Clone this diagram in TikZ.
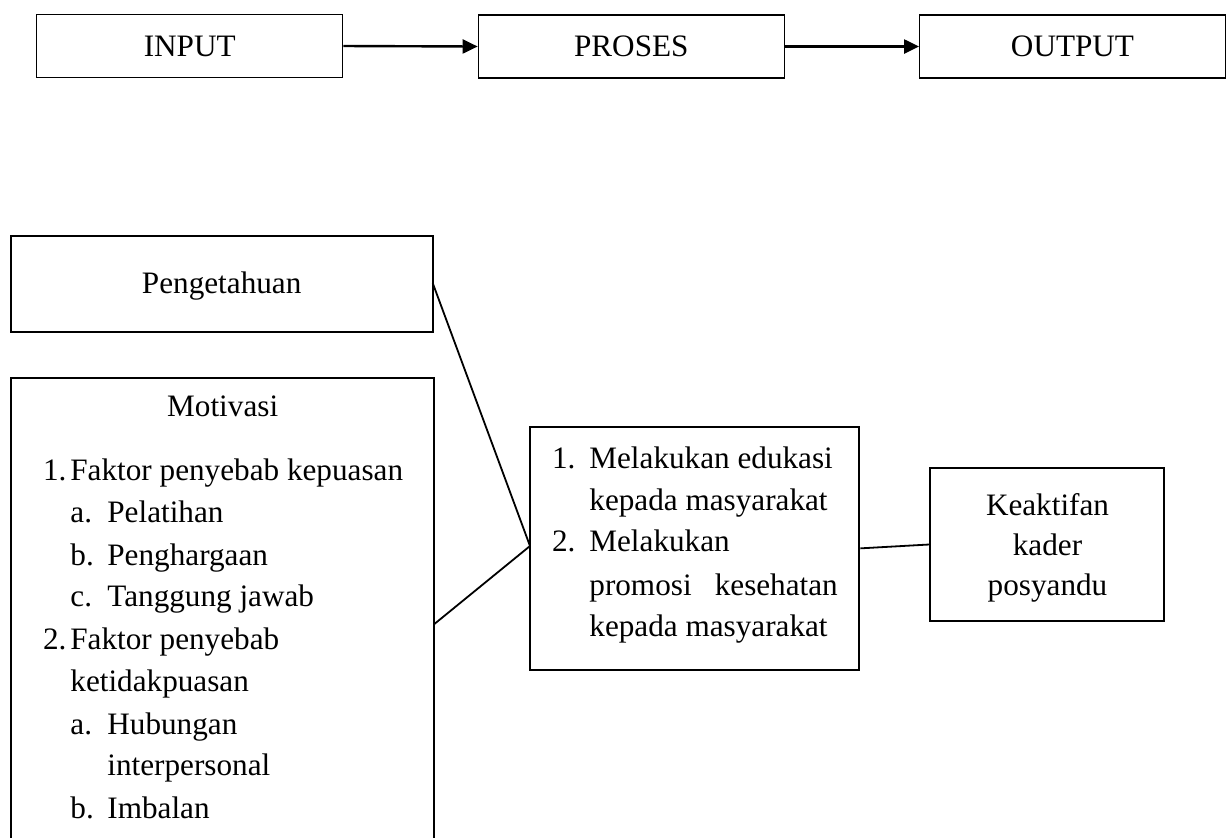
\documentclass[tikz,border=0pt]{standalone}
\usepackage{fontspec}
\setmainfont{Liberation Serif}
\usetikzlibrary{arrows.meta}
\begin{document}
\begin{tikzpicture}[x=0.5pt,y=-0.5pt,
  topbox/.style={draw, line width=0.65pt, inner sep=0pt, font=\fontsize{15.6}{21}\selectfont},
  lowbox/.style={draw, line width=1pt, inner sep=0pt, font=\fontsize{15.6}{20}\selectfont, align=center},
  txt/.style={anchor=base west, inner sep=0pt, font=\fontsize{15.6}{21}\selectfont},
  ctxt/.style={anchor=base, inner sep=0pt, font=\fontsize{15.6}{21}\selectfont},
  flow/.style={line width=1.2pt, -{Triangle[length=7.5pt,width=7pt]}},
  link/.style={line width=0.9pt}]
\useasboundingbox (0,0) rectangle (1232,837);
\clip (0,0) rectangle (1232,837);
% top row
\node[topbox, minimum width=153pt, minimum height=31.8pt] (input) at (189.7,46) {INPUT};
\node[topbox, minimum width=153pt, minimum height=31.5pt] (proses) at (631.3,46.5) {PROSES};
\node[topbox, minimum width=152.8pt, minimum height=31.5pt] (output) at (1072.5,46.5) {OUTPUT};
\draw[flow] (input.east) -- (proses.west);
\draw[flow] (proses.east) -- (output.west);
% left boxes
\node[lowbox, minimum width=211pt, minimum height=48pt] (peng) at (221.7,283.7) {};
\node[ctxt] (pengt) at (221.7,293.3) {Pengetahuan};
\node[lowbox, minimum width=211.3pt, minimum height=240pt, anchor=north] (motiv) at (222.65,376.7) {};
\node[ctxt] (motivt) at (222.7,416.7) {Motivasi};
\node[txt] (n1) at (42.7,480) {1.};
\node[txt] (l1) at (70,480) {Faktor penyebab kepuasan};
\node[txt] (n1a) at (70,522) {a.};
\node[txt] (l1a) at (107,522) {Pelatihan};
\node[txt] (n1b) at (70,565) {b.};
\node[txt] (l1b) at (107,565) {Penghargaan};
\node[txt] (n1c) at (70,606.7) {c.};
\node[txt] (l1c) at (107,606.7) {Tanggung jawab};
\node[txt] (n2) at (42.7,649) {2.};
\node[txt] (l2) at (70,649) {Faktor penyebab};
\node[txt] (l2b) at (70,691.7) {ketidakpuasan};
\node[txt] (n2a) at (70,734.3) {a.};
\node[txt] (l2a) at (107,734.3) {Hubungan};
\node[txt] (l2a2) at (107,775) {interpersonal};
\node[txt] (n2bb) at (70,818.3) {b.};
\node[txt] (l2bb) at (107,818.3) {Imbalan};
% middle box
\node[lowbox, minimum width=164.65pt, minimum height=121.65pt] (mid) at (694.65,548.35) {};
\node[txt] (m1) at (551.7,468.3) {1.};
\node[txt] (m1a) at (589,468.3) {Melakukan edukasi};
\node[txt] (m1b) at (589,510) {kepada masyarakat};
\node[txt] (m2) at (551.7,551.7) {2.};
\node[txt] (m2a) at (589,551.7) {Melakukan};
\node[txt] (m2b) at (589,595) {\makebox[124.2pt][s]{promosi kesehatan}};
\node[txt] (m2c) at (589,636.7) {kepada masyarakat};
% right box
\node[lowbox, minimum width=117.15pt, minimum height=76.8pt] (keak) at (1047.2,544.5) {};
\node[ctxt] (k1) at (1047.5,515.7) {Keaktifan};
\node[ctxt] (k2) at (1047.5,555.5) {kader};
\node[ctxt] (k3) at (1047.5,595) {posyandu};
% connectors
\coordinate (pj) at (432.7,283);
\coordinate (mj) at (434,624.3);
\coordinate (jn) at (530,546);
\draw[link] (pj) -- (jn);
\draw[link] (mj) -- (jn);
\draw[link] (mid.east) -- (keak.west);
\end{tikzpicture}
\end{document}
